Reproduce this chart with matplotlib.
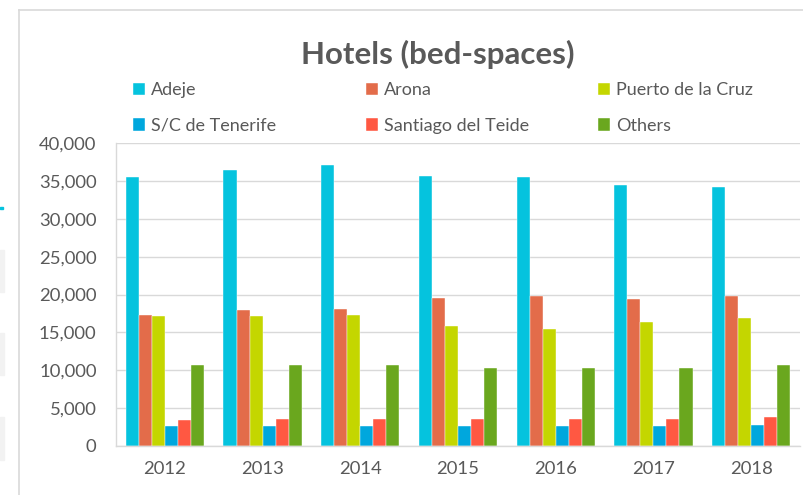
import matplotlib.pyplot as plt
import numpy as np
from matplotlib.patches import Rectangle
from matplotlib.lines import Line2D
from matplotlib.ticker import FuncFormatter

plt.rcParams['font.family'] = ['Lato', 'DejaVu Sans']

years = ['2012', '2013', '2014', '2015', '2016', '2017', '2018']
adeje = [35500, 36400, 37150, 35700, 35450, 34400, 34200]
arona = [17350, 17900, 18100, 19550, 19750, 19400, 19850]
puerto = [17150, 17150, 17250, 15800, 15400, 16350, 16950]
sc_tenerife = [2650, 2650, 2650, 2650, 2700, 2700, 2750]
santiago = [3450, 3600, 3600, 3600, 3600, 3600, 3850]
others = [10650, 10700, 10700, 10300, 10250, 10250, 10750]

names = ['Adeje', 'Arona', 'Puerto de la Cruz', 'S/C de Tenerife', 'Santiago del Teide', 'Others']
series = [adeje, arona, puerto, sc_tenerife, santiago, others]
colors = ['#05C3DE', '#E36C4A', '#C4D600', '#00A7DD', '#FF5842', '#6AA71E']

txt = '#595959'
grid = '#D9D9D9'

fig = plt.figure(figsize=(8.04, 4.95), dpi=100)
ax = fig.add_axes([116/804, 1-446/495, 684/804, 303/495])

x = np.arange(len(years))
w = 0.8 / len(series)
bars = []
for i, (vals, c, n) in enumerate(zip(series, colors, names)):
    b = ax.bar(x + (i - 2.5)*w, vals, w, color=c, label=n,
               edgecolor='white', linewidth=0.3)
    bars.append(b)

ax.set_xlim(-0.5, len(years) - 0.5)
ax.set_ylim(0, 40000)
ax.set_yticks(np.arange(0, 40001, 5000))
ax.yaxis.set_major_formatter(FuncFormatter(lambda v, p: f'{int(v):,}'))
ax.set_xticks(x)
ax.set_xticklabels(years)
ax.tick_params(axis='both', length=0, labelsize=13.3, colors=txt)
ax.tick_params(axis='y', pad=14)
ax.tick_params(axis='x', pad=11)
ax.grid(axis='y', color=grid, linewidth=1)
ax.set_axisbelow(True)
for s in ['top', 'right']:
    ax.spines[s].set_visible(False)
for s in ['left', 'bottom']:
    ax.spines[s].set_color(grid)
    ax.spines[s].set_linewidth(1)

fig.text(438/804, 1-54/495, 'Hotels (bed-spaces)', ha='center', va='center',
         fontsize=22.5, fontweight='bold', color=txt)

# legend, one column at a time, rows read left to right
col_x = [133, 366, 598]
for k in range(3):
    hs = [bars[k], bars[k+3]]
    ls = [names[k], names[k+3]]
    leg = fig.legend(hs, ls, loc='upper left',
                     bbox_to_anchor=(col_x[k]/804, 1-82/495),
                     frameon=False, fontsize=13, labelcolor=txt,
                     handlelength=0.65, handleheight=0.65, handletextpad=0.35,
                     labelspacing=1.1, borderpad=0, borderaxespad=0)

# chart frame
fig.add_artist(Line2D([19/804, 19/804], [0, 1-10/495], color=grid, lw=1.2,
                      transform=fig.transFigure))
fig.add_artist(Line2D([19/804, 1], [1-10/495, 1-10/495], color=grid, lw=1.2,
                      transform=fig.transFigure))

# bits of the page at the left edge
for y0, y1 in [(250, 292), (333, 375), (417, 460)]:
    fig.add_artist(Rectangle((0, 1-y1/495), 4/804, (y1-y0)/495,
                             color='#F2F2F2', transform=fig.transFigure))
fig.add_artist(Rectangle((0, 1-209/495), 3/804, 2/495, color='#05C3DE',
                         transform=fig.transFigure))

fig.savefig('out.png', dpi=100)
